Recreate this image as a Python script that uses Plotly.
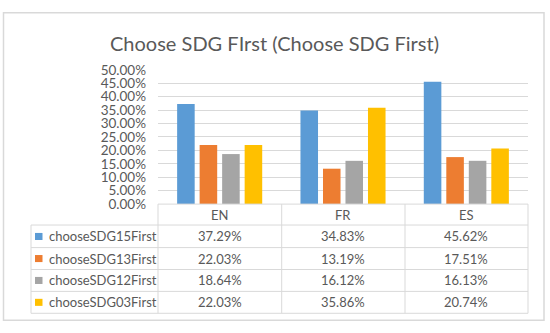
import plotly.graph_objects as go

categories = ["EN", "FR", "ES"]
series_names = ["chooseSDG15First", "chooseSDG13First", "chooseSDG12First", "chooseSDG03First"]
sdg15 = [0.3729, 0.3483, 0.4562]
sdg13 = [0.2203, 0.1319, 0.1751]
sdg12 = [0.1864, 0.1612, 0.1613]
sdg03 = [0.2203, 0.3586, 0.2074]
series_values = [sdg15, sdg13, sdg12, sdg03]
colors = ["#5b9bd5", "#ed7d31", "#a5a5a5", "#ffc000"]
title_text = "Choose SDG FIrst (Choose SDG First)"

W, H = 550, 333
def px(x):
    return x / W
def py(y):
    return 1 - y / H

FONT = "Lato"
TXT = "#595959"
LINE = "#d9d9d9"

fig = go.Figure()
for name, vals, col in zip(series_names, series_values, colors):
    fig.add_trace(go.Bar(x=categories, y=vals, name=name, marker=dict(color=col, line=dict(width=0))))

shapes = []
# outer chart border
shapes.append(dict(type="rect", xref="paper", yref="paper", x0=px(3.5), x1=px(544), y0=py(5), y1=py(328),
                   line=dict(color="#d9d9d9", width=1.5), layer="below"))
# table lines
row_lines = [206, 228, 251.7, 274.7, 297.7, 320.7]
tl, tx0, tx1 = 31, 158, 528
for i, yy in enumerate(row_lines):
    x0 = tx0 if i == 0 else tl
    shapes.append(dict(type="line", xref="paper", yref="paper", x0=px(x0), x1=px(tx1), y0=py(yy), y1=py(yy),
                       line=dict(color=LINE, width=1)))
shapes.append(dict(type="line", xref="paper", yref="paper", x0=px(tl), x1=px(tl), y0=py(228), y1=py(320.7),
                   line=dict(color=LINE, width=1)))
for xx in [158, 281.7, 405, 528]:
    shapes.append(dict(type="line", xref="paper", yref="paper", x0=px(xx), x1=px(xx), y0=py(206), y1=py(320.7),
                       line=dict(color=LINE, width=1)))

annotations = []
annotations.append(dict(text=title_text, xref="paper", yref="paper", x=px(274.5), y=py(36.5), showarrow=False,
                        xanchor="center", yanchor="middle", font=dict(family=FONT, size=20, color=TXT)))
# header
for c in categories:
    annotations.append(dict(text=c, xref="x", yref="paper", x=c, y=py(217.5), showarrow=False,
                            xanchor="center", yanchor="middle", font=dict(family=FONT, size=13, color=TXT)))
row_centers = [240, 263.2, 286.2, 309.2]
for name, vals, col, yc in zip(series_names, series_values, colors, row_centers):
    shapes.append(dict(type="rect", xref="paper", yref="paper", x0=px(35), x1=px(42.5), y0=py(yc + 3.7), y1=py(yc - 3.7),
                       line=dict(width=0), fillcolor=col))
    annotations.append(dict(text=name, xref="paper", yref="paper", x=px(46.5), y=py(yc), showarrow=False,
                            xanchor="left", yanchor="middle", font=dict(family=FONT, size=13, color=TXT)))
    for c, v in zip(categories, vals):
        annotations.append(dict(text=f"{v*100:.2f}%", xref="x", yref="paper", x=c, y=py(yc), showarrow=False,
                                xanchor="center", yanchor="middle", font=dict(family=FONT, size=13, color=TXT)))

fig.update_layout(
    width=W, height=H,
    margin=dict(l=0, r=0, t=0, b=0),
    paper_bgcolor="white", plot_bgcolor="white",
    showlegend=False,
    barmode="group", bargap=0.27, bargroupgap=0.22,
    shapes=shapes, annotations=annotations,
    xaxis=dict(domain=[px(158), px(528)], showticklabels=False, showgrid=False, zeroline=False,
               showline=False, ticks=""),
    yaxis=dict(domain=[py(206), py(65)], range=[0, 0.5], dtick=0.05, tickformat=".2%",
               showgrid=True, gridcolor=LINE, gridwidth=1, zeroline=False, showline=False, ticks="",
               ticklabelstandoff=11,
               tickfont=dict(family=FONT, size=13.5, color=TXT)),
)

fig.write_html("out.html", config={"displayModeBar": False},
               post_script="document.body.style.margin='0';document.body.style.overflow='hidden';")
